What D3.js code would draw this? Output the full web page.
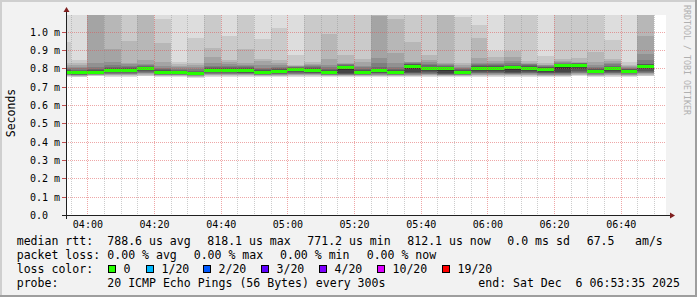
<!DOCTYPE html>
<html>
<head>
<meta charset="utf-8">
<script src="https://cdn.jsdelivr.net/npm/d3@7"></script>
<style>
body { margin: 0; background: #f2f2f2; }
svg { display: block; font-family: "DejaVu Sans Mono", monospace; }
text { white-space: pre; }
</style>
</head>
<body>
<svg id="chart" width="697" height="297"></svg>
<script>
// smokeping style graph, 20 pings every 300s, values in microseconds
const times = ["03:50","03:55","04:00","04:05","04:10","04:15","04:20","04:25","04:30","04:35",
  "04:40","04:45","04:50","04:55","05:00","05:05","05:10","05:15","05:20","05:25",
  "05:30","05:35","05:40","05:45","05:50","05:55","06:00","06:05","06:10","06:15",
  "06:20","06:25","06:30","06:35","06:40","06:45"];
const median = [780,775,777,790,790,797,778,778,771,790,790,788,780,785,793,788,780,805,780,786,
  780,810,797,797,780,800,800,802,800,795,813,818,785,798,784,812];
// sorted ping times per column (ping 1 .. ping 20)
const pings = [
  [752,756,759,762,764,766,769,772,775,777,783,787,792,798,804,810,818,830,946,1250],
  [751,755,757,759,761,763,765,767,769,772,778,782,787,793,800,810,820,830,846,1300],
  [757,760,762,764,766,768,770,772,774,775,779,783,789,796,805,830,1250,1300,1350,1400],
  [754,758,761,764,767,770,774,778,782,786,793,797,803,810,820,837,904,1200,1300,1400],
  [755,759,762,765,768,771,775,779,783,787,793,797,802,808,815,822,828,951,1200,1300],
  [756,760,764,768,772,776,780,785,790,794,800,803,807,812,817,822,846,1150,1250,1350],
  [752,756,759,762,764,766,768,771,774,776,780,784,789,795,803,815,837,937,1069,1200],
  [752,756,759,762,764,766,768,771,774,776,780,784,788,793,799,808,815,822,837,1150],
  [750,753,755,757,759,761,763,765,767,769,773,777,782,788,795,805,816,828,967,1200],
  [755,759,762,765,768,771,775,779,783,787,793,797,802,808,815,830,864,910,1150,1300],
  [754,758,761,764,767,770,774,778,782,787,793,797,802,808,815,825,835,846,977,1200],
  [754,758,761,764,767,770,773,777,781,785,791,795,800,806,813,820,828,907,1150,1300],
  [752,756,759,762,764,766,769,772,775,778,782,786,791,797,804,820,838,850,960,1250],
  [753,757,760,763,765,767,770,774,778,782,788,792,797,803,810,820,830,846,1018,1200],
  [755,759,762,765,768,771,775,779,784,789,796,799,802,805,808,811,814,818,873,1150],
  [754,758,761,764,767,770,773,777,781,785,791,795,800,806,812,818,825,837,1150,1300],
  [752,756,759,762,764,766,769,772,775,778,782,786,791,797,805,818,850,988,1150,1300],
  [752,756,759,762,764,766,768,770,773,790,808,811,814,817,821,825,828,873,1150,1300],
  [752,756,759,762,764,766,769,772,775,778,782,786,791,797,805,815,835,850,1150,1300],
  [753,757,760,763,766,769,772,776,780,783,789,793,798,805,830,855,1085,1200,1300,1400],
  [752,756,759,762,764,766,769,772,775,778,782,786,791,797,806,828,886,1069,1150,1300],
  [753,757,760,763,766,769,772,775,778,795,814,818,822,826,830,834,837,946,1150,1300],
  [755,759,762,765,768,771,775,779,785,792,801,805,810,816,823,834,845,873,1150,1300],
  [752,756,759,762,764,766,768,771,774,785,801,805,809,813,817,822,828,1200,1300,1400],
  [752,756,759,762,764,766,769,772,775,778,782,786,790,795,800,806,818,828,1078,1200],
  [755,759,762,765,768,772,776,781,787,794,804,808,813,818,824,830,855,964,1036,1200],
  [755,759,762,765,768,772,776,781,787,794,804,808,812,817,823,830,840,864,897,1150],
  [754,758,761,764,767,770,773,776,780,790,806,810,815,820,828,840,864,897,1150,1300],
  [755,759,762,765,768,772,776,781,787,794,804,808,812,816,821,826,830,842,1150,1300],
  [753,757,760,763,766,769,772,775,778,785,799,802,805,808,812,816,820,828,868,1150],
  [753,757,760,763,766,769,772,775,778,795,817,820,823,826,830,834,838,850,1150,1300],
  [757,761,765,769,773,777,782,788,795,808,822,824,826,828,830,831,832,855,1150,1300],
  [753,757,760,763,766,769,772,776,780,783,788,792,797,803,810,820,832,891,1150,1300],
  [755,759,762,765,768,772,776,781,787,794,802,806,810,815,821,830,838,850,955,1200],
  [753,757,760,763,766,769,772,776,780,782,787,790,794,798,803,808,814,820,837,1150],
  [756,760,764,768,772,776,781,787,794,803,815,818,822,826,846,879,977,1200,1300,1400]
];
const yTicks = [0, 0.1, 0.2, 0.3, 0.4, 0.5, 0.6, 0.7, 0.8, 0.9, 1.0];
const yTickLabels = ["0.0", "0.1 m", "0.2 m", "0.3 m", "0.4 m", "0.5 m", "0.6 m", "0.7 m", "0.8 m", "0.9 m", "1.0 m"];
const xTicks = ["04:00", "04:20", "04:40", "05:00", "05:20", "05:40", "06:00", "06:20", "06:40"];
const lossLabels = ["0", "1/20", "2/20", "3/20", "4/20", "10/20", "19/20"];
const lossColors = ["#26ff00", "#00b8ff", "#0059ff", "#5e00ff", "#7e00ff", "#dd00ff", "#ff0000"];
// smoke shades, outermost pair first
const smokeColors = ["#dddddd", "#cacaca", "#b7b7b7", "#a4a4a4", "#919191", "#7e7e7e", "#6b6b6b", "#585858", "#454545", "#323232"];

const parseTime = d3.utcParse("%Y-%m-%d %H:%M:%S");
const day = t => parseTime("2025-12-06 " + (t.length == 5 ? t + ":00" : t));
const start = day("03:53:35");
const end = day("06:53:35");

const svg = d3.select("#chart");
const plotLeft = 66, plotRight = 666, plotTop = 15, plotBottom = 215;

const x = d3.scaleUtc().domain([start, end]).range([plotLeft, plotRight]);
const y = d3.scaleLinear().domain([0, 1.091]).range([plotBottom, plotTop]);

// frame
svg.append("rect").attr("width", 697).attr("height", 297).attr("fill", "#f2f2f2");
svg.append("rect").attr("x", 0).attr("y", 0).attr("width", 697).attr("height", 2).attr("fill", "#cfcfcf");
svg.append("rect").attr("x", 0).attr("y", 0).attr("width", 2).attr("height", 297).attr("fill", "#cfcfcf");
svg.append("rect").attr("x", 0).attr("y", 295).attr("width", 697).attr("height", 2).attr("fill", "#9e9e9e");
svg.append("rect").attr("x", 695).attr("y", 0).attr("width", 2).attr("height", 297).attr("fill", "#9e9e9e");

// canvas
svg.append("rect").attr("x", plotLeft).attr("y", plotTop).attr("width", plotRight - plotLeft)
  .attr("height", plotBottom - plotTop).attr("fill", "#fff");
svg.append("clipPath").attr("id", "clip").append("rect")
  .attr("x", plotLeft).attr("y", plotTop).attr("width", plotRight - plotLeft).attr("height", plotBottom - plotTop);

const plot = svg.append("g").attr("clip-path", "url(#clip)").attr("shape-rendering", "crispEdges");

// smoke: pair i spans ping i .. ping 21-i
times.forEach((t, j) => {
  const t0 = day(t);
  const x0 = Math.round(x(t0)), x1 = Math.round(x(d3.utcMinute.offset(t0, 5)));
  smokeColors.forEach((c, i) => {
    const lo = pings[j][i] / 1000, hi = pings[j][19 - i] / 1000;
    plot.append("rect")
      .attr("x", x0).attr("width", x1 - x0)
      .attr("y", y(hi)).attr("height", y(lo) - y(hi))
      .attr("fill", c);
  });
  plot.append("rect")
    .attr("x", x0).attr("width", x1 - x0)
    .attr("y", y(median[j] / 1000) - 1.5).attr("height", 3)
    .attr("fill", lossColors[0]);
});

// grid on top of the data
const grid = svg.append("g").attr("fill", "none").attr("stroke-dasharray", "1,1")
  .attr("shape-rendering", "crispEdges");
const minor = d3.utcMinute.every(5).range(day("03:55"), day("06:55"));
minor.forEach(d => {
  const major = d.getUTCMinutes() % 20 == 0;
  const px = Math.round(x(d)) + 0.5;
  grid.append("line").attr("x1", px).attr("x2", px).attr("y1", plotTop).attr("y2", plotBottom)
    .attr("stroke", major ? "#de5050" : "#8f8f8f").attr("stroke-opacity", major ? 0.5 : 0.45);
});
yTicks.slice(1).forEach(v => {
  const py = Math.round(y(v)) + 0.5;
  grid.append("line").attr("x1", plotLeft).attr("x2", plotRight).attr("y1", py).attr("y2", py)
    .attr("stroke", "#de5050").attr("stroke-opacity", 0.5);
  svg.append("line").attr("x1", plotLeft - 4).attr("x2", plotLeft).attr("y1", py).attr("y2", py)
    .attr("stroke", "#c05050").attr("stroke-width", 1);
});

// axes
const axisCol = "#202020", arrowCol = "#7f1f1f";
svg.append("line").attr("x1", plotLeft - 4).attr("x2", plotRight + 5)
  .attr("y1", plotBottom + 0.5).attr("y2", plotBottom + 0.5).attr("stroke", axisCol);
svg.append("line").attr("x1", plotLeft + 0.5).attr("x2", plotLeft + 0.5)
  .attr("y1", plotBottom + 4).attr("y2", plotTop - 4).attr("stroke", axisCol);
svg.append("path")
  .attr("d", `M${plotRight + 4},${plotBottom - 2.5}L${plotRight + 9},${plotBottom + 0.5}L${plotRight + 4},${plotBottom + 3.5}Z`)
  .attr("fill", arrowCol);
svg.append("path")
  .attr("d", `M${plotLeft - 2.5},${plotTop - 3}L${plotLeft + 0.5},${plotTop - 8}L${plotLeft + 3.5},${plotTop - 3}Z`)
  .attr("fill", arrowCol);

const xAxis = d3.axisBottom(x)
  .tickValues(xTicks.map(day))
  .tickFormat(d3.utcFormat("%H:%M"))
  .tickSize(0).tickPadding(0);
const gx = svg.append("g").attr("transform", `translate(0,${plotBottom})`).call(xAxis);
gx.select(".domain").remove();
gx.selectAll("text").attr("dy", null).attr("y", 13).attr("font-size", 10)
  .attr("font-family", "DejaVu Sans Mono").attr("fill", "#000");

const yAxis = d3.axisLeft(y)
  .tickValues(yTicks)
  .tickFormat((d, i) => yTickLabels[i])
  .tickSize(0);
const gy = svg.append("g").attr("transform", `translate(${plotLeft},0)`).call(yAxis);
gy.select(".domain").remove();
gy.selectAll("text").attr("text-anchor", "start").attr("x", 30 - plotLeft).attr("dy", "0.35em")
  .attr("font-size", 10).attr("font-family", "DejaVu Sans Mono").attr("fill", "#000");

// vertical unit label
svg.append("text").attr("transform", "translate(15,113) rotate(-90)")
  .attr("text-anchor", "middle").attr("font-size", 11.5).text("Seconds");

// watermark
svg.append("text").attr("transform", "translate(684,5) rotate(90)")
  .attr("font-size", 8.3).attr("fill", "#b0b0b0").text("RRDTOOL / TOBI OETIKER");

// legend
const legend = svg.append("g").attr("font-size", 11.55).attr("fill", "#000");
const rows = [
  [245, [[16.7, "median rtt:"], [107.3, "788.6 us avg"], [207.3, "818.1 us max"], [307.3, "771.2 us min"],
    [407.3, "812.1 us now"], [507.3, "0.0 ms sd"], [586.7, "67.5"], [635, "am/s"]]],
  [258.9, [[16.7, "packet loss:"], [107.3, "0.00 % avg"], [193.7, "0.00 % max"], [280, "0.00 % min"], [366.7, "0.00 % now"]]],
  [272.8, [[16.7, "loss color:"]]],
  [286.7, [[16.7, "probe:"], [107.3, "20 ICMP Echo Pings (56 Bytes) every 300s"], [478.3, "end: Sat Dec  6 06:53:35 2025"]]]
];
rows.forEach(([by, items]) => {
  items.forEach(([bx, s]) => legend.append("text").attr("x", bx).attr("y", by).text(s));
});
const boxX = [108.5, 146.5, 203.5, 261.5, 319.5, 377.5, 442.5];
lossLabels.forEach((l, i) => {
  legend.append("rect").attr("x", boxX[i]).attr("y", 265.5).attr("width", 7).attr("height", 7)
    .attr("fill", lossColors[i]).attr("stroke", "#000").attr("stroke-width", 1);
  legend.append("text").attr("x", boxX[i] + 15).attr("y", 272.8).text(l);
});
</script>
</body>
</html>
